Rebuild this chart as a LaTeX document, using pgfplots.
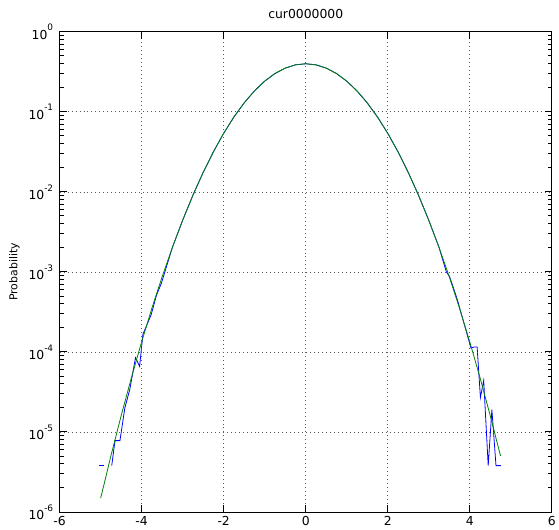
\documentclass[border=0pt]{standalone}
\usepackage{fontspec}
\setmainfont{DejaVu Sans}
\usepackage{pgfplots}
\pgfplotsset{compat=1.18}
\usetikzlibrary{calc}
\definecolor{histblue}{RGB}{0,0,255}
\definecolor{fitgreen}{RGB}{0,128,0}
\newcommand{\tp}[1]{10\raisebox{1.2ex}{\fontsize{9}{10}\selectfont #1}}
\begin{document}
\begin{tikzpicture}
\begin{axis}[
  scale only axis,
  width=495bp, height=483bp,
  xmin=-6, xmax=6,
  ymode=log, ymin=1e-6, ymax=1,
  xtick={-6,-4,...,6},
  ytick={1e-6,1e-5,1e-4,1e-3,1e-2,1e-1,1},
  yticklabels={\tp{-6},\tp{-5},\tp{-4},\tp{-3},\tp{-2},\tp{-1},\tp{0}},
  minor ytick={2e-6,3e-6,4e-6,5e-6,6e-6,7e-6,8e-6,9e-6,
    2e-5,3e-5,4e-5,5e-5,6e-5,7e-5,8e-5,9e-5,
    2e-4,3e-4,4e-4,5e-4,6e-4,7e-4,8e-4,9e-4,
    2e-3,3e-3,4e-3,5e-3,6e-3,7e-3,8e-3,9e-3,
    0.02,0.03,0.04,0.05,0.06,0.07,0.08,0.09,
    0.2,0.3,0.4,0.5,0.6,0.7,0.8,0.9},
  /pgf/number format/assume math mode=true,
  tick label style={font=\fontsize{12.5}{14}\selectfont},
  yticklabel style={xshift=-3bp},
  xticklabel style={yshift=-1bp},
  tick align=inside,
  major tick length=7bp, minor tick length=4bp,
  major tick style={black, line width=1pt},
  minor tick style={black, line width=1pt},
  axis line style={line width=0.9pt},
  ymajorgrids, xmajorgrids,
  major grid style={black!65, dash pattern=on 1bp off 3bp, line width=0.7pt},
  minor grid style={draw=none},
  axis on top,
  title={cur0000000},
  title style={font=\fontsize{12.5}{14}\selectfont, yshift=4bp},
  ylabel={Probability},
  ylabel style={font=\fontsize{11}{13}\selectfont, yshift=2bp},
]
% empirical histogram (blue)
\addplot[histblue, line width=0.8pt] coordinates {(-5.04,3.8e-6) (-4.93,3.8e-6)};
\addplot[histblue, line width=0.8pt] coordinates {
  (-4.73,3.8e-6) (-4.65,7.8e-6) (-4.53,7.8e-6) (-4.41,2.0e-5) (-4.29,3.4e-5)
  (-4.15,8.5e-5) (-4.05,6.6e-5) (-3.97,1.66e-4) (-3.77,2.9e-4) (-3.64,5.1e-4)
  (-3.52,7.2e-4) (-3.25,0.00203) (-3.0,0.00443) (-2.75,0.00909) (-2.5,0.01753)
  (-2.25,0.03174) (-2.0,0.05399) (-1.75,0.08628) (-1.5,0.12952) (-1.25,0.18265)
  (-1.0,0.24197) (-0.75,0.30114) (-0.5,0.35207) (-0.25,0.38667) (0,0.39894)
  (0.25,0.38667) (0.5,0.35207) (0.75,0.30114) (1.0,0.24197) (1.25,0.18265)
  (1.5,0.12952) (1.75,0.08628) (2.0,0.05399) (2.25,0.03174) (2.5,0.01753)
  (2.75,0.00909) (3.0,0.00443) (3.25,0.00203) (3.43,1.0e-3) (3.51,8.7e-4)
  (3.71,4.3e-4) (3.75,3.6e-4) (4.03,1.12e-4) (4.10,1.15e-4) (4.18,1.15e-4)
  (4.26,2.7e-5) (4.34,4.4e-5) (4.45,3.8e-6) (4.54,1.9e-5) (4.64,3.8e-6)
  (4.76,3.8e-6)
};
% normal density (green)
\addplot[fitgreen, line width=0.8pt] coordinates {
  (-5.0,1.487e-6) (-4.75,5.030e-6) (-4.5,1.598e-5) (-4.25,4.770e-5)
  (-4.0,1.3383e-4) (-3.75,3.526e-4) (-3.5,8.727e-4) (-3.25,2.029e-3)
  (-3.0,4.432e-3) (-2.75,9.094e-3) (-2.5,0.01753) (-2.25,0.03174)
  (-2.0,0.05399) (-1.75,0.08628) (-1.5,0.12952) (-1.25,0.18265)
  (-1.0,0.24197) (-0.75,0.30114) (-0.5,0.35207) (-0.25,0.38667)
  (0,0.39894) (0.25,0.38667) (0.5,0.35207) (0.75,0.30114)
  (1.0,0.24197) (1.25,0.18265) (1.5,0.12952) (1.75,0.08628)
  (2.0,0.05399) (2.25,0.03174) (2.5,0.01753) (2.75,9.094e-3)
  (3.0,4.432e-3) (3.25,2.029e-3) (3.5,8.727e-4) (3.75,3.526e-4)
  (4.0,1.3383e-4) (4.25,4.770e-5) (4.5,1.598e-5) (4.75,5.030e-6)
};
\end{axis}
\path ($(current axis.south west)+(-60bp,-15bp)$) rectangle ($(current axis.north east)+(4bp,32bp)$);
\end{tikzpicture}
\end{document}
